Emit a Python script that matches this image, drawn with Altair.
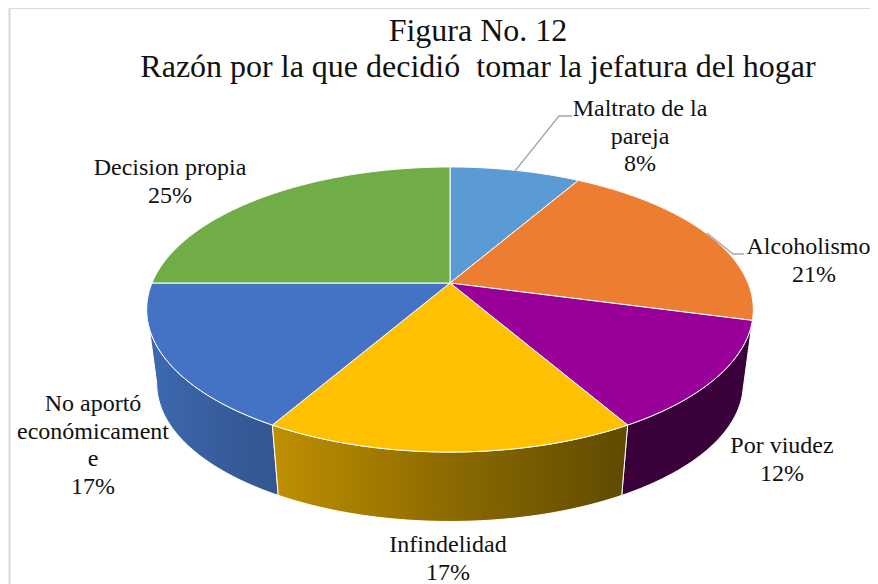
import math
import altair as alt
import pandas as pd

# ---- data
categories = ["Maltrato de la pareja", "Alcoholismo", "Por viudez", "Infindelidad",
              "No aportó económicamente", "Decision propia"]
shares = [1, 2.5, 1.5, 2, 2, 3]   # twelfths of the pie; labels round these
top_colors = ["#5b9bd5", "#ed7d31", "#990099", "#ffc000", "#4472c4", "#70ad47"]

# ---- texts
title_lines = ["Figura No. 12", "Razón por la que decidió\u00a0 tomar la jefatura del hogar"]
label_lines = [
    ["Maltrato de la", "pareja", "8%"],
    ["Alcoholismo"],
    ["Por viudez", "12%"],
    ["Infindelidad", "17%"],
    ["No aportó", "económicament", "e", "17%"],
    ["Decision propia", "25%"],
    ["21%"],
]

# ---- layout, page pixels (x, first baseline)
W, H = 862, 576
OX, OY = 8, 8
CX, CY, B, A, K = 450, 283, 298, 137.6, 0.186
WALL_Y, WALL_S = 358, 0.967
label_pos = [(640, 116), (808.5, 254), (782, 453), (448, 552), (93, 411), (170, 175), (814, 282)]
LINE_H = 27.7
TITLE_POS = [(478, 41), (478, 77)]

xs = alt.Scale(domain=[OX, OX + W], range=[0, W], nice=False, zero=False)
ys = alt.Scale(domain=[OY, OY + H], range=[0, H], nice=False, zero=False)
X = alt.X("x:Q", scale=xs, axis=None)
Y = alt.Y("y:Q", scale=ys, axis=None)


def top_pt(deg):
    t = math.radians(deg)
    d = 1 + K * math.cos(t)
    return CX + B * math.sin(t) / d, CY - A * math.cos(t) / d


def bottom_pt(deg):
    t = math.radians(deg)
    d = 1 + K * math.cos(t)
    return (CX + WALL_S * B * math.sin(t) / d,
            WALL_Y - WALL_S * A * math.cos(t) / d)


def arc(fn, a, b):
    n = max(4, int(abs(b - a)))
    return [fn(a + (b - a) * i / n) for i in range(n + 1)]


def poly(points, fill, stroke="#ffffff", width=1.0):
    df = pd.DataFrame(points, columns=["x", "y"])
    df["o"] = range(len(df))
    return alt.Chart(df).mark_line(
        fill=fill, stroke=stroke, strokeWidth=width, interpolate="linear", clip=False
    ).encode(x=X, y=Y, order="o:Q")


# angles of the slice edges
edges = [0.0]
for s in shares:
    edges.append(edges[-1] + 360 * s / sum(shares))

layers = []

# side walls
wall_blue = alt.Gradient(gradient="linear", x1=0, x2=1, y1=0, y2=0, stops=[
    alt.GradientStop(color="#3e6ab2", offset=0), alt.GradientStop(color="#365c9b", offset=0.6),
    alt.GradientStop(color="#335690", offset=1)])
wall_yellow = alt.Gradient(gradient="linear", x1=0, x2=1, y1=0, y2=0, stops=[
    alt.GradientStop(color="#bf9000", offset=0), alt.GradientStop(color="#8c6a00", offset=0.5),
    alt.GradientStop(color="#5f4a00", offset=1)])
walls = [(edges[4], 259.5, wall_blue), (edges[2], edges[3], "#3a0039"), (edges[3], edges[4], wall_yellow)]
for a, b, fill in walls:
    pts = arc(top_pt, a, b) + arc(bottom_pt, b, a)
    pts.append(pts[0])
    layers.append(poly(pts, fill))

# top face
for i, col in enumerate(top_colors):
    pts = [(CX, CY)] + arc(top_pt, edges[i], edges[i + 1]) + [(CX, CY)]
    layers.append(poly(pts, col))

# leader lines
for pts in ([(515, 171), (559, 116), (572, 116)], [(707, 233), (733, 254), (744, 254)]):
    df = pd.DataFrame(pts, columns=["x", "y"])
    df["o"] = range(len(df))
    layers.append(alt.Chart(df).mark_line(stroke="#a6a6a6", strokeWidth=1.3).encode(x=X, y=Y, order="o:Q"))

# frame
layers.append(alt.Chart(pd.DataFrame({"x": [9.5], "y": [8], "y2": [584]})).mark_rule(
    color="#d9d9d9", strokeWidth=2).encode(x=X, y=Y, y2="y2:Q"))
layers.append(alt.Chart(pd.DataFrame({"x": [9], "x2": [870], "y": [8]})).mark_rule(
    color="#d9d9d9", strokeWidth=2).encode(x=X, x2="x2:Q", y=Y))

# titles and labels
rows = []
for line, (x, y) in zip(title_lines, TITLE_POS):
    rows.append({"x": x, "y": y, "t": line})
layers.append(alt.Chart(pd.DataFrame(rows)).mark_text(
    font="Liberation Serif", fontSize=32, color="#111111", align="center", baseline="alphabetic"
).encode(x=X, y=Y, text="t:N"))

rows = []
for lines, (x, y) in zip(label_lines, label_pos):
    for j, line in enumerate(lines):
        rows.append({"x": x, "y": y + j * LINE_H, "t": line})
layers.append(alt.Chart(pd.DataFrame(rows)).mark_text(
    font="Liberation Serif", fontSize=24, color="#111111", align="center", baseline="alphabetic"
).encode(x=X, y=Y, text="t:N"))

chart = alt.layer(*layers).properties(
    width=W, height=H, padding=0, autosize=alt.AutoSizeParams(type="none"), background="#ffffff"
).configure_view(stroke=None)

chart.save("out.html", embed_options={"renderer": "svg", "actions": False})
